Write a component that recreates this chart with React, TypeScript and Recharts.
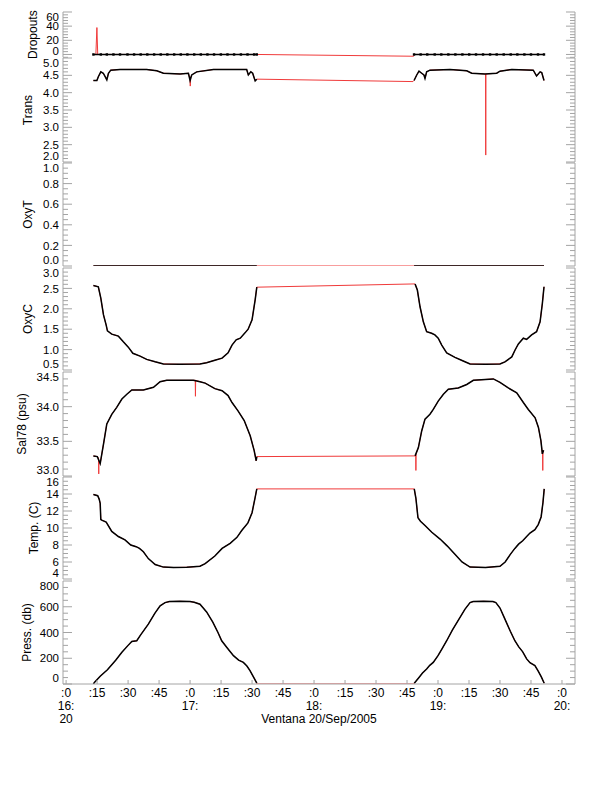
import React from 'react';
import { LineChart, Line, XAxis, YAxis } from 'recharts';

type Pt = [number, number];

// ---------- time axis (minutes after 16:00) ----------
const timeDomain: [number, number] = [-1.5, 246.3];
const timeTicks = [0, 15, 30, 45, 60, 75, 90, 105, 120, 135, 150, 165, 180, 195, 210, 225, 240];
const minuteLabels = [':0', ':15', ':30', ':45'];
const hourLabels = ['16:', '17:', '18:', '19:', '20:'];
const dayLabel = '20';
const footerLabel = 'Ventana 20/Sep/2005';

// ---------- Dropouts ----------
const dropCast1: Pt[] = [
  [13.2, 0], [16.8, 0], [19.7, 0], [22.9, 0], [26.1, 0], [29.7, 0], [32.9, 0], [36.1, 0], [39.3, 0],
  [42.6, 0], [45.8, 0], [49.0, 0], [52.3, 0], [55.5, 0], [58.7, 0], [62.0, 0], [65.2, 0], [68.4, 0],
  [71.6, 0], [74.9, 0], [78.1, 0], [81.3, 0], [84.6, 0], [87.8, 0], [91.0, 0], [92.3, 0],
];
const dropCast2: Pt[] = [
  [168.4, 0], [171.6, 0], [174.8, 0], [178.4, 0], [181.6, 0], [185.0, 0], [188.4, 0], [191.8, 0],
  [195.1, 0], [198.4, 0], [201.8, 0], [205.2, 0], [208.4, 0], [211.8, 0], [215.2, 0], [218.4, 0],
  [221.8, 0], [225.0, 0], [228.4, 0], [231.3, 0],
];
const dropRaw: Pt[] = [[14.4, 0], [14.9, 38], [15.3, 0], [168.2, -2.5]];

// ---------- Trans ----------
const transCast1: Pt[] = [
  [13.2, 4.35], [14.9, 4.35], [15.6, 4.46], [16.8, 4.6], [18.0, 4.56], [18.9, 4.46], [19.7, 4.37],
  [20.5, 4.56], [21.6, 4.65], [26.1, 4.67], [39.0, 4.67], [43.9, 4.63], [47.1, 4.56], [55.2, 4.54],
  [59.2, 4.56], [60.0, 4.35], [60.8, 4.51], [63.2, 4.6], [71.3, 4.67], [87.4, 4.67], [88.2, 4.51],
  [89.4, 4.6], [90.3, 4.56], [91.5, 4.34], [92.3, 4.39],
];
const transCast2: Pt[] = [
  [168.4, 4.35], [169.7, 4.51], [170.8, 4.62], [172.1, 4.56], [173.2, 4.51], [173.7, 4.41],
  [174.5, 4.6], [176.1, 4.65], [185.8, 4.67], [193.9, 4.63], [196.3, 4.56], [202.7, 4.54],
  [208.4, 4.56], [210.0, 4.62], [215.7, 4.67], [226.1, 4.65], [227.7, 4.48], [229.4, 4.6],
  [230.2, 4.58], [231.3, 4.35],
];
const transRaw: Pt[] = [
  [59.9, 4.4], [60.1, 4.19], [60.3, 4.45],
  [167.9, 4.32],
  [203.0, 4.54], [203.1, 2.2], [203.2, 4.54],
];

// ---------- OxyT ----------
const oxyTCast1: Pt[] = [[13.2, 0], [92.3, 0]];
const oxyTCast2: Pt[] = [[168.4, 0], [231.3, 0]];
const oxyTRaw: Pt[] = [];

// ---------- OxyC ----------
const oxyCCast1: Pt[] = [
  [13.2, 2.57], [15.6, 2.54], [16.8, 2.26], [18.1, 1.85], [19.4, 1.6], [20.0, 1.46], [22.1, 1.38],
  [25.3, 1.33], [27.7, 1.19], [30.1, 1.06], [32.3, 0.91], [35.8, 0.84], [39.0, 0.76], [43.1, 0.7],
  [47.1, 0.65], [55, 0.64], [64.8, 0.65], [68, 0.68], [72, 0.74], [75.5, 0.79], [78.4, 0.92],
  [80.3, 1.11], [82.3, 1.24], [84.3, 1.28], [86.6, 1.41], [88.1, 1.5], [90.0, 1.73], [91.5, 2.22],
  [92.3, 2.53],
];
const oxyCCast2: Pt[] = [
  [168.9, 2.61], [170.0, 2.46], [171.3, 2.05], [172.9, 1.68], [174.5, 1.44], [176.9, 1.4],
  [178.5, 1.36], [180.1, 1.28], [181.8, 1.11], [184.2, 0.92], [188.2, 0.81], [192.2, 0.72],
  [195.5, 0.65], [203, 0.64], [210, 0.65], [212.4, 0.7], [215.7, 0.82], [217.3, 0.99],
  [218.9, 1.14], [221.3, 1.28], [222.9, 1.25], [225.3, 1.36], [227.7, 1.44], [229.4, 1.68],
  [230.5, 2.13], [231.3, 2.54],
];
const oxyCRaw: Pt[] = [];

// ---------- Sal78 ----------
const salCast1: Pt[] = [
  [13.2, 33.29], [15.1, 33.28], [16.5, 33.18], [18.1, 33.46], [19.7, 33.75], [22.1, 33.89],
  [24.5, 33.99], [27.0, 34.11], [29.4, 34.18], [31.8, 34.24], [37.4, 34.24], [42.3, 34.28],
  [45.5, 34.36], [48.7, 34.38], [61.6, 34.38], [64.8, 34.36], [67.3, 34.34], [72.0, 34.26],
  [75.5, 34.23], [78.4, 34.16], [80.3, 34.06], [83.2, 33.94], [86.2, 33.8], [89.1, 33.58],
  [91.0, 33.37], [92.0, 33.22], [92.3, 33.28],
];
const salCast2: Pt[] = [
  [168.9, 33.29], [170.5, 33.41], [172.1, 33.65], [173.7, 33.82], [176.1, 33.89], [177.7, 33.96],
  [180.1, 34.08], [182.6, 34.18], [185.0, 34.25], [189.8, 34.27], [193.9, 34.32], [197.1, 34.38],
  [206.8, 34.4], [210.0, 34.35], [214.0, 34.27], [218.1, 34.2], [221.3, 34.06], [223.7, 33.96],
  [227.0, 33.84], [228.6, 33.7], [229.8, 33.51], [230.5, 33.32], [231.1, 33.37],
];
const salRaw: Pt[] = [
  [15.7, 33.26], [15.8, 33.03], [15.9, 33.22],
  [62.5, 34.38], [62.6, 34.15], [62.7, 34.38],
  [169.2, 33.3], [169.3, 33.08], [169.4, 33.32],
  [230.6, 33.35], [230.7, 33.08], [230.8, 33.35],
];

// ---------- Temp ----------
const tempCast1: Pt[] = [
  [13.2, 13.95], [15.3, 13.8], [16.0, 13.4], [16.5, 12.9], [16.8, 11.0], [17.5, 10.9], [19.4, 10.7],
  [22.1, 9.6], [25.3, 9.0], [28.5, 8.6], [31.3, 8.0], [33.9, 7.8], [35.5, 7.6], [37.4, 7.2],
  [39.8, 6.4], [43.1, 5.7], [47.1, 5.4], [52, 5.35], [58.4, 5.38], [64.8, 5.5], [67.3, 5.8],
  [72, 6.7], [75.5, 7.6], [79.4, 8.2], [82.7, 8.9], [85, 9.7], [88, 10.6], [90, 11.8], [91.5, 13.6],
  [92.3, 14.6],
];
const tempCast2: Pt[] = [
  [168.5, 14.6], [169.3, 13.5], [170.3, 11.2], [171.5, 10.8], [173.7, 10.3], [177, 9.5], [181, 8.7],
  [184.4, 7.9], [188.2, 6.9], [191.6, 6.0], [195.5, 5.4], [203, 5.35], [210, 5.5], [212.5, 6.0],
  [215, 6.9], [217.2, 7.6], [219, 8.1], [221, 8.5], [222.9, 9.0], [224.5, 9.4], [226.9, 9.8],
  [228.5, 10.4], [229.9, 11.3], [230.8, 13.0], [231.4, 14.6],
];
const tempRaw: Pt[] = [];

// ---------- Press ----------
const pressCast1: Pt[] = [
  [13.2, 0], [13.8, 14], [16.5, 60], [20, 110], [24, 185], [27, 246], [30, 300], [31.8, 331],
  [34.2, 336], [36, 380], [39.8, 465], [43, 550], [45.5, 607], [47.9, 632], [50, 640], [55, 642],
  [60, 640], [62, 635], [64.8, 620], [68, 560], [71, 480], [73.5, 400], [75.3, 336], [78, 280],
  [81, 220], [83.5, 185], [85.8, 168], [87.5, 140], [89, 104], [91, 45], [92.3, 6],
];
const pressCast2: Pt[] = [
  [168.5, 6], [170.5, 45], [172.5, 85], [174.5, 117], [176, 145], [177.7, 168], [180, 220],
  [182, 275], [184.2, 336], [187, 420], [190, 500], [193, 580], [195.5, 632], [197, 640], [202, 642],
  [206.6, 640], [208, 632], [210, 590], [212.5, 500], [215, 410], [217.2, 336], [219, 290],
  [221, 250], [222.9, 195], [224.5, 165], [226.9, 143], [228.5, 100], [230, 55], [231.4, 6],
];
const pressRaw: Pt[] = [[92.6, 0], [168.2, 0]];

// ---------- panel specs ----------
interface Spec {
  title: string;
  titleX: number;
  top: number;
  bottom: number;
  domain: [number, number];
  majors: number[];
  minorStep: number;
  decimals: number;
  cast1: Pt[];
  cast2: Pt[];
  raw: Pt[];
  dots?: boolean;
}

const specs: Spec[] = [
  { title: 'Dropouts', titleX: 33, top: 11.5, bottom: 56.8, domain: [-4, 60], majors: [0, 20, 40, 60], minorStep: 4, decimals: 0, cast1: dropCast1, cast2: dropCast2, raw: dropRaw, dots: true },
  { title: 'Trans', titleX: 28, top: 58, bottom: 162, domain: [2, 5], majors: [2, 2.5, 3, 3.5, 4, 4.5, 5], minorStep: 0.1, decimals: 1, cast1: transCast1, cast2: transCast2, raw: transRaw },
  { title: 'OxyT', titleX: 28, top: 163, bottom: 266, domain: [0, 1], majors: [0, 0.2, 0.4, 0.6, 0.8, 1], minorStep: 0.05, decimals: 1, cast1: oxyTCast1, cast2: oxyTCast2, raw: oxyTRaw },
  { title: 'OxyC', titleX: 28, top: 268, bottom: 370, domain: [0.5, 3], majors: [0.5, 1, 1.5, 2, 2.5, 3], minorStep: 0.1, decimals: 1, cast1: oxyCCast1, cast2: oxyCCast2, raw: oxyCRaw },
  { title: 'Sal78 (psu)', titleX: 22, top: 371.5, bottom: 475.5, domain: [33, 34.5], majors: [33, 33.5, 34, 34.5], minorStep: 0.1, decimals: 1, cast1: salCast1, cast2: salCast2, raw: salRaw },
  { title: 'Temp. (C)', titleX: 34, top: 477, bottom: 579, domain: [4, 16], majors: [4, 6, 8, 10, 12, 14, 16], minorStep: 0.5, decimals: 0, cast1: tempCast1, cast2: tempCast2, raw: tempRaw },
  { title: 'Press. (db)', titleX: 27, top: 580.5, bottom: 683.5, domain: [0, 800], majors: [0, 200, 400, 600, 800], minorStep: 50, decimals: 0, cast1: pressCast1, cast2: pressCast2, raw: pressRaw },
];

const axisGray = '#a4a4a4';
const font = '"Liberation Sans", Arial, Helvetica, sans-serif';
const red = '#f03a3a';

function allTicks(s: Spec): number[] {
  const out: number[] = [];
  const n = Math.round((s.domain[1] - s.domain[0]) / s.minorStep);
  for (let i = 0; i <= n; i++) out.push(+(s.domain[0] + i * s.minorStep).toFixed(6));
  return out;
}

const isMajor = (s: Spec, v: number) => s.majors.some((m) => Math.abs(m - v) < 1e-6);

const toObj = (pts: Pt[]) => pts.map(([t, v]) => ({ t, v }));

const SquareDot = (props: any) => {
  const { cx, cy } = props;
  if (cx == null || cy == null) return <g />;
  return <rect x={cx - 1.2} y={cy - 1.2} width={2.4} height={2.4} fill="#000" />;
};

function Panel({ s, isBottom }: { s: Spec; isBottom: boolean }) {
  const padTop = 12;
  const plotH = s.bottom - s.top;
  const padBottom = isBottom ? 62 : 12;
  const height = padTop + plotH + padBottom;
  const rawData = toObj([...s.cast1, ...s.raw, ...s.cast2].sort((a, b) => a[0] - b[0]));
  const c1 = toObj(s.cast1);
  const c2 = toObj(s.cast2);
  const ticks = allTicks(s);
  const labelMin = padTop + 4.5;
  const labelMax = padTop + plotH - 6.5;

  const leftTick = (p: any) => {
    const { x, y, payload } = p;
    const v = payload.value;
    const maj = isMajor(s, v);
    const ly = Math.min(Math.max(y, labelMin), labelMax);
    return (
      <g>
        <line x1={x} x2={x + (maj ? 9 : 5)} y1={y} y2={y} stroke={axisGray} strokeWidth={1} />
        {maj && (
          <text x={x - 4} y={ly} dy="0.36em" textAnchor="end" fontSize={11.5} fontFamily={font} fill="#000">
            {Number(v).toFixed(s.decimals)}
          </text>
        )}
      </g>
    );
  };
  const rightTick = (p: any) => {
    const { x, y, payload } = p;
    const maj = isMajor(s, payload.value);
    return <line x1={x} x2={x - (maj ? 9 : 5)} y1={y} y2={y} stroke={axisGray} strokeWidth={1} />;
  };
  const xTick = (p: any) => {
    const { x, y, payload } = p;
    const t = Math.round(payload.value);
    const m = t % 60;
    const h = Math.round((t - m) / 60);
    return (
      <g>
        <line x1={x} x2={x} y1={y} y2={y - 4} stroke={axisGray} />
        <text x={x} y={y + 12.5} textAnchor="middle" fontSize={12} fontFamily={font} fill="#000">
          {minuteLabels[m / 15]}
        </text>
        {m === 0 && (
          <text x={x} y={y + 25.5} textAnchor="middle" fontSize={12} fontFamily={font} fill="#000">
            {hourLabels[h]}
          </text>
        )}
        {t === 0 && (
          <text x={x} y={y + 38.5} textAnchor="middle" fontSize={12} fontFamily={font} fill="#000">
            {dayLabel}
          </text>
        )}
      </g>
    );
  };
  const title = () => (
    <text
      x={s.titleX}
      y={padTop + plotH / 2}
      transform={`rotate(-90 ${s.titleX} ${padTop + plotH / 2})`}
      textAnchor="middle"
      dy="0.36em"
      fontSize={12}
      fontFamily={font}
      fill="#000"
    >
      {s.title}
    </text>
  );
  const footer = (p: any) => {
    const vb = p.viewBox || { x: 63, width: 512, y: padTop + plotH };
    return (
      <text x={vb.x + vb.width / 2} y={padTop + plotH + 38.5} textAnchor="middle" fontSize={12} fontFamily={font} fill="#000">
        {footerLabel}
      </text>
    );
  };

  return (
    <div style={{ position: 'absolute', left: 0, top: s.top - padTop }}>
      <LineChart width={612} height={height} margin={{ top: padTop, right: 0, bottom: isBottom ? 0 : padBottom, left: 0 }}>
        <XAxis
          type="number"
          dataKey="t"
          domain={timeDomain}
          allowDataOverflow
          hide={!isBottom}
          ticks={timeTicks}
          interval={0}
          height={isBottom ? padBottom : 0}
          tickSize={0}
          tickMargin={0}
          tickLine={false}
          tick={xTick}
          axisLine={{ stroke: axisGray }}
          label={footer}
        />
        <YAxis
          yAxisId="l"
          type="number"
          domain={s.domain}
          allowDataOverflow
          ticks={ticks}
          interval={0}
          width={63}
          tickSize={0}
          tickMargin={0}
          tickLine={false}
          tick={leftTick}
          axisLine={{ stroke: axisGray }}
          label={title}
        />
        <YAxis
          yAxisId="r"
          orientation="right"
          type="number"
          domain={s.domain}
          allowDataOverflow
          ticks={ticks}
          interval={0}
          width={37}
          tickSize={0}
          tickMargin={0}
          tickLine={false}
          tick={rightTick}
          axisLine={{ stroke: axisGray }}
        />
        <Line yAxisId="l" data={rawData} dataKey="v" type="linear" stroke={red} strokeWidth={1} dot={false} isAnimationActive={false} />
        <Line yAxisId="l" data={c1} dataKey="v" type="linear" stroke="#000" strokeWidth={1.5} dot={s.dots ? SquareDot : false} isAnimationActive={false} />
        <Line yAxisId="l" data={c2} dataKey="v" type="linear" stroke="#000" strokeWidth={1.5} dot={s.dots ? SquareDot : false} isAnimationActive={false} />
      </LineChart>
    </div>
  );
}

export default function App() {
  return (
    <div style={{ position: 'absolute', left: 0, top: 0, width: 612, height: 785, background: '#fff' }}>
      {specs.map((s, i) => (
        <Panel key={s.title} s={s} isBottom={i === specs.length - 1} />
      ))}
    </div>
  );
}
